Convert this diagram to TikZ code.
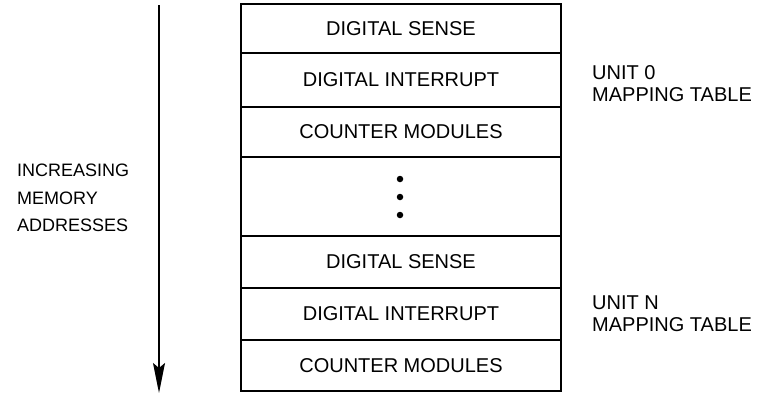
\documentclass[tikz,border=0pt]{standalone}
\usepackage{fontspec}
\setmainfont{Liberation Sans}
\usetikzlibrary{arrows.meta}
\begin{document}
\begin{tikzpicture}[x=1pt,y=-1pt,
  row/.style={draw, line width=1.5pt, minimum width=320pt, inner sep=0pt,
    font=\fontsize{20}{22}\selectfont},
  side/.style={anchor=west, inner sep=0pt, align=left},
  dot/.style={fill=black, circle, inner sep=0pt, minimum size=6.5pt}]
\useasboundingbox (0,0) rectangle (758,394);
% memory rows
\node[row, minimum height=49pt] (s0) at (401,28.5) {DIGITAL SENSE};
\node[row, minimum height=54pt] (i0) at (401,80) {DIGITAL INTERRUPT};
\node[row, minimum height=50pt] (c0) at (401,132) {COUNTER MODULES};
\node[row, minimum height=79pt] (gap) at (401,196.5) {};
\node[row, minimum height=52pt] (sn) at (401,262) {DIGITAL SENSE};
\node[row, minimum height=52pt] (in) at (401,314) {DIGITAL INTERRUPT};
\node[row, minimum height=51pt] (cn) at (401,365.5) {COUNTER MODULES};
% dots
\node[dot] (d1) at (400,179) {};
\node[dot] (d2) at (400,197) {};
\node[dot] (d3) at (400,215) {};
% side labels
\node[side, font=\fontsize{18}{27.5}\selectfont] (inc) at (17,198) {INCREASING\\MEMORY\\ADDRESSES};
\node[side, font=\fontsize{20}{22}\selectfont] (u0) at (592,83.5) {UNIT 0\\MAPPING TABLE};
\node[side, font=\fontsize{20}{22}\selectfont] (un) at (592,313.5) {UNIT N\\MAPPING TABLE};
% arrow
\coordinate (atop) at (159,5);
\coordinate (abot) at (159,393);
\draw[line width=1.6pt, -{Stealth[length=30pt, width=12pt, inset=5pt]}] (atop) -- (abot);
\end{tikzpicture}
\end{document}
